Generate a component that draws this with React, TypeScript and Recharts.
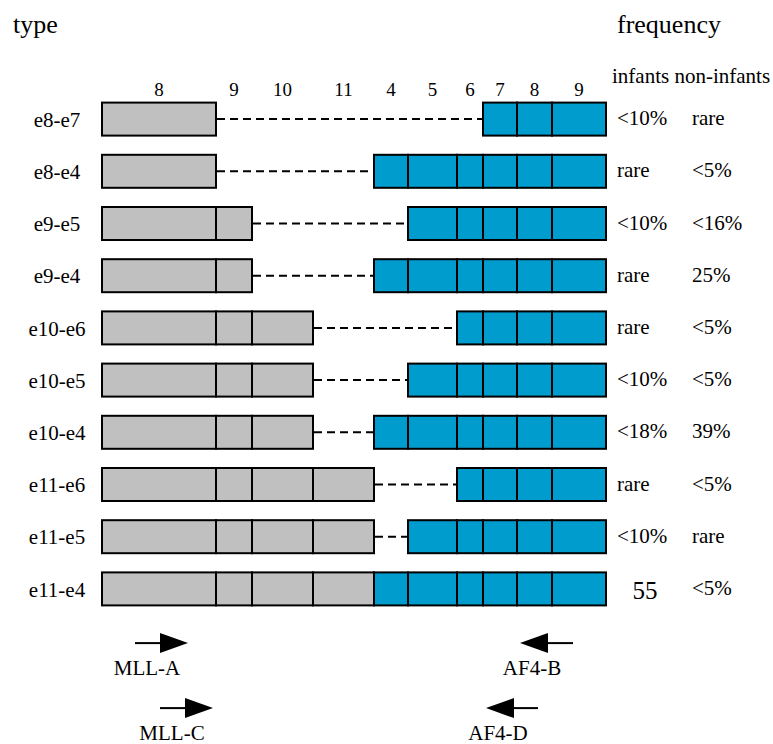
import * as R from 'recharts';
import { BarChart, Bar, XAxis, YAxis, LabelList } from 'recharts';

// fusion types, top to bottom
const fusionTypes = ['e8-e7', 'e8-e4', 'e9-e5', 'e9-e4', 'e10-e6', 'e10-e5', 'e10-e4', 'e11-e6', 'e11-e5', 'e11-e4'];
// last MLL exon kept / first AF4 exon joined
const mllBreakExon = [8, 8, 9, 9, 10, 10, 10, 11, 11, 11];
const af4JoinExon = [7, 4, 5, 4, 6, 5, 4, 6, 5, 4];

const mllExons = [8, 9, 10, 11];
const mllExonLengths = [114, 36, 61, 61];
const af4Exons = [4, 5, 6, 7, 8, 9];
const af4ExonLengths = [34, 49, 26, 34, 35, 54];

const infantsFreq = ['<10%', 'rare', '<10%', 'rare', 'rare', '<10%', '<18%', 'rare', '<10%', '55'];
const nonInfantsFreq = ['rare', '<5%', '<16%', '25%', '<5%', '<5%', '39%', '<5%', 'rare', '<5%'];

// primer sites along the same exon axis (start -> end gives direction)
const primerNames = ['MLL-A', 'AF4-B', 'MLL-C', 'AF4-D'];
const primerStart = [33, 471, 58, 436];
const primerEnd = [86, 418, 111, 384];
const primerRow = [0, 0, 1, 1];

const FONT = "'Liberation Serif', 'Times New Roman', Times, serif";
const textStyle = { fontFamily: FONT };
const GRAY = '#c0c0c0';
const BLUE = '#009cce';

const totalLength = [...mllExonLengths, ...af4ExonLengths].reduce((a, b) => a + b, 0);

const exonLabels = [...mllExons, ...af4Exons];
const exonCenters: number[] = [];
[...mllExonLengths, ...af4ExonLengths].reduce((start, len) => {
  exonCenters.push(start + len / 2);
  return start + len;
}, 0);

const data = fusionTypes.map((type, i) => {
  const row: any = { type, infants: infantsFreq[i], nonInfants: nonInfantsFreq[i] };
  let gap = 0;
  mllExons.forEach((ex, j) => {
    const keep = ex <= mllBreakExon[i];
    row[`mll${ex}`] = keep ? mllExonLengths[j] : 0;
    if (!keep) gap += mllExonLengths[j];
  });
  af4Exons.forEach((ex, j) => {
    const keep = ex >= af4JoinExon[i];
    row[`af4_${ex}`] = keep ? af4ExonLengths[j] : 0;
    if (!keep) gap += af4ExonLengths[j];
  });
  row.gap = gap;
  return row;
});

const ExonShape = (props: any) => {
  const { x, y, width, height, fill } = props;
  if (!width || width <= 0) return null;
  return <rect x={x} y={y} width={width} height={height} fill={fill} stroke="#000" strokeWidth={2} />;
};

const GapShape = (props: any) => {
  const { x, y, width, height } = props;
  if (!width || width <= 0) return null;
  const cy = y + height / 2;
  return <line x1={x + 1} x2={x + width} y1={cy} y2={cy} stroke="#000" strokeWidth={2} strokeDasharray="8 5" />;
};

const TypeTick = ({ x, y, payload }: any) => (
  <text x={x - 45} y={y} dy={8} textAnchor="middle" fontSize={21} style={textStyle} fill="#000">
    {payload.value}
  </text>
);

const ExonTick = ({ x, y, payload }: any) => {
  const idx = exonCenters.indexOf(payload.value);
  return (
    <text x={x} y={y + 3} textAnchor="middle" fontSize={19} style={textStyle} fill="#000">
      {idx >= 0 ? exonLabels[idx] : ''}
    </text>
  );
};

const InfantsLabel = ({ x, y, width, height, value }: any) => {
  const bare = !/%|rare/.test(String(value));
  const cy = y + height / 2;
  if (bare) {
    return (
      <text x={x + width + 39} y={cy + 10} textAnchor="middle" fontSize={25} style={textStyle} fill="#000">
        {value}
      </text>
    );
  }
  return (
    <text x={x + width + 11} y={cy + 6} fontSize={21} style={textStyle} fill="#000">
      {value}
    </text>
  );
};

const NonInfantsLabel = ({ x, y, width, height, value }: any) => (
  <text x={x + width + 86} y={y + height / 2 + 6} fontSize={21} style={textStyle} fill="#000">
    {value}
  </text>
);

const usePlot = () => {
  const hook = (R as any).usePlotArea;
  const area = hook ? hook() : undefined;
  return area ?? { x: 102, y: 92.6, width: 504, height: 522 };
};

const Annotations = () => {
  const area = usePlot();
  const toPx = (v: number) => area.x + (v / totalLength) * area.width;
  const bottom = area.y + area.height;
  return (
    <g style={textStyle} fill="#000">
      <text x={13} y={33} fontSize={26} style={textStyle}>type</text>
      <text x={617} y={33} fontSize={26} style={textStyle}>frequency</text>
      <text x={612} y={83} fontSize={21} style={textStyle}>infants non-infants</text>
      {primerNames.map((name, i) => {
        const x0 = toPx(primerStart[i]);
        const x1 = toPx(primerEnd[i]);
        const dir = x1 > x0 ? 1 : -1;
        const cy = bottom + 28.5 + primerRow[i] * 65;
        const headBase = x1 - dir * 28;
        return (
          <g key={name}>
            <line x1={x0} x2={headBase} y1={cy} y2={cy} stroke="#000" strokeWidth={2} />
            <polygon points={`${x1},${cy} ${headBase},${cy - 10} ${headBase},${cy + 10}`} fill="#000" />
            <text x={Math.min(x0, x1) + 12} y={cy + 32} textAnchor="middle" fontSize={21} style={textStyle}>
              {name}
            </text>
          </g>
        );
      })}
    </g>
  );
};

export default function App() {
  return (
    <div style={{ position: 'absolute', left: 0, top: 0, background: '#fff', fontFamily: FONT }}>
      <BarChart
        width={773}
        height={744}
        data={data}
        layout="vertical"
        margin={{ top: 62.6, right: 167, bottom: 129.4, left: 0 }}
        barSize={33}
      >
        <XAxis
          type="number"
          orientation="top"
          domain={[0, totalLength]}
          ticks={exonCenters}
          interval={0}
          height={30}
          axisLine={false}
          tickLine={false}
          tickSize={0}
          tickMargin={0}
          tick={<ExonTick />}
        />
        <YAxis
          type="category"
          dataKey="type"
          width={102}
          axisLine={false}
          tickLine={false}
          tickSize={0}
          tickMargin={0}
          interval={0}
          tick={<TypeTick />}
        />
        {mllExons.map((ex) => (
          <Bar key={`mll${ex}`} dataKey={`mll${ex}`} stackId="a" fill={GRAY} shape={<ExonShape />} isAnimationActive={false} />
        ))}
        <Bar dataKey="gap" stackId="a" fill="none" shape={<GapShape />} isAnimationActive={false} />
        {af4Exons.map((ex) => (
          <Bar key={`af4_${ex}`} dataKey={`af4_${ex}`} stackId="a" fill={BLUE} shape={<ExonShape />} isAnimationActive={false}>
            {ex === af4Exons[af4Exons.length - 1] && <LabelList dataKey="infants" content={<InfantsLabel />} />}
            {ex === af4Exons[af4Exons.length - 1] && <LabelList dataKey="nonInfants" content={<NonInfantsLabel />} />}
          </Bar>
        ))}
        <Annotations />
      </BarChart>
    </div>
  );
}
